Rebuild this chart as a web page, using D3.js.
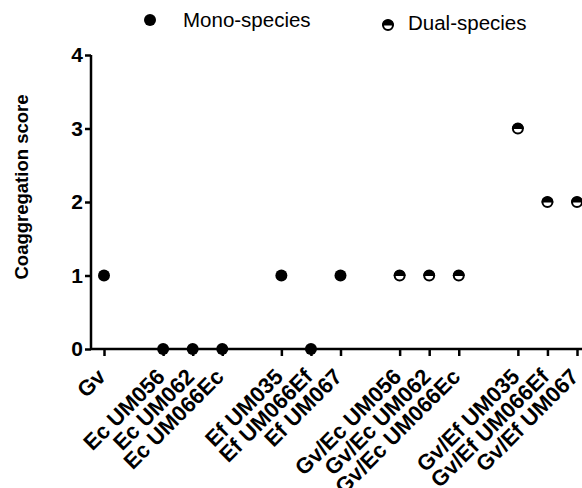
<!DOCTYPE html>
<html><head><meta charset="utf-8">
<script src="https://cdn.jsdelivr.net/npm/d3@7"></script>
<style>body{margin:0;background:#fff}svg{display:block}text{font-family:"Liberation Sans",Arial,sans-serif}</style>
</head><body>
<svg id="c" width="582" height="488"></svg>
<script>
const groups = [
  ["Gv"],
  ["Ec UM056","Ec UM062","Ec UM066Ec"],
  ["Ef UM035","Ef UM066Ef","Ef UM067"],
  ["Gv/Ec UM056","Gv/Ec UM062","Gv/Ec UM066Ec"],
  ["Gv/Ef UM035","Gv/Ef UM066Ef","Gv/Ef UM067"]
];
const scores = [1, 0,0,0, 1,0,1, 1,1,1, 3,2,2];
const kinds = ["mono","mono","mono","mono","mono","mono","mono","dual","dual","dual","dual","dual","dual"];
const yTicks = [0,1,2,3,4];
const legendLabels = ["Mono-species","Dual-species"];

// build slots: one empty slot between groups
const cats = [], slots = [];
let s = 0;
groups.forEach((g,gi)=>{ if(gi>0) s+=1; g.forEach(c=>{cats.push(c); slots.push(s); s+=1;}); });
const data = cats.map((c,i)=>({cat:c, slot:slots[i], v:scores[i], kind:kinds[i]}));

const svg = d3.select("#c");
const x = d3.scaleLinear().domain([0, d3.max(slots)]).range([104, 577]);
const y = d3.scaleLinear().domain([0, 4]).range([349, 55]);
const axisX0 = 91;

// y axis
const ya = svg.append("g").attr("transform",`translate(${axisX0},0)`)
  .call(d3.axisLeft(y).tickValues(yTicks).tickFormat(d3.format("d")).tickSize(6).tickPadding(2));
ya.select(".domain").attr("stroke","#000").attr("stroke-width",2.5).attr("d",`M0,${y(4)}V${y(0)}`);
ya.selectAll(".tick line").attr("stroke","#000").attr("stroke-width",2.5);
ya.selectAll(".tick text").attr("font-size",21).attr("font-weight","bold").attr("fill","#000")
  .attr("font-family","Liberation Sans, Arial, sans-serif");

// x axis
const xa = svg.append("g").attr("transform",`translate(0,${y(0)})`)
  .call(d3.axisBottom(x).tickValues(slots).tickSize(7).tickFormat(""));
xa.select(".domain").attr("stroke","#000").attr("stroke-width",2.5).attr("d",`M${axisX0},0H584`);
xa.selectAll(".tick line").attr("stroke","#000").attr("stroke-width",2.5);

// x labels
svg.append("g").selectAll("text").data(data).join("text")
  .attr("transform",d=>`translate(${x(d.slot)+3},${y(0)+29}) rotate(-45)`)
  .attr("text-anchor","end").attr("font-size",22).attr("font-weight","bold").attr("fill","#000")
  .text(d=>d.cat);

// y title
svg.append("text").attr("transform","translate(28,187) rotate(-90)")
  .attr("text-anchor","middle").attr("font-size",18.5).attr("font-weight","bold").text("Coaggregation score");

const r = 6;
function drawMarker(g, kind){
  if(kind==="mono"){
    g.append("circle").attr("r",r).attr("fill","#000");
  } else {
    g.append("circle").attr("r",r-1).attr("fill","#fff").attr("stroke","#000").attr("stroke-width",2);
    g.append("path").attr("d",`M${-r},0.5A${r},${r} 0 0,1 ${r},0.5Z`).attr("fill","#000");
  }
}
svg.append("g").selectAll("g").data(data).join("g")
  .attr("transform",d=>`translate(${x(d.slot)},${y(d.v)})`)
  .each(function(d){ drawMarker(d3.select(this), d.kind); });

// legend
const leg = [{k:"mono",mx:150,my:20,tx:183,ty:27},{k:"dual",mx:388,my:25,tx:408,ty:30}];
leg.forEach((l,i)=>{
  const g = svg.append("g").attr("transform",`translate(${l.mx},${l.my})`);
  drawMarker(g,l.k);
  svg.append("text").attr("x",l.tx).attr("y",l.ty).attr("font-size",20.5).attr("fill","#000").text(legendLabels[i]);
});
</script>
</body></html>
